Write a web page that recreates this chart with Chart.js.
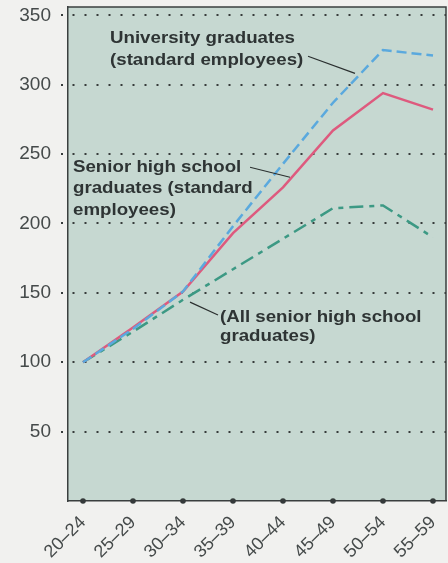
<!DOCTYPE html>
<html>
<head>
<meta charset="utf-8">
<script src="https://cdn.jsdelivr.net/npm/chart.js@4/dist/chart.umd.min.js"></script>
<style>
  html, body { margin: 0; padding: 0; background: #f1f1ef; }
  #c { display: block; }
</style>
</head>
<body>
<canvas id="c" width="448" height="563" style="width:448px;height:563px"></canvas>
<script>
// Age groups along the bottom axis
const ageGroups = ['20–24', '25–29', '30–34', '35–39', '40–44', '45–49', '50–54', '55–59'];

// Wage index (20–24 = 100)
const universityGrads    = [100, 124, 151, 198, 243, 287, 325, 321];
const seniorHighStandard = [100, 125, 151, 193, 226, 267, 294, 282];
const allSeniorHigh      = [100, 122, 145, 167, 189, 211, 213, 190];

// Value-axis tick labels
const yTickValues = [50, 100, 150, 200, 250, 300, 350];

// Series call-outs: text lines and leader lines, in data coordinates
const seriesNotes = [
  { x: 0.54, lines: [['University graduates', 329.8], ['(standard employees)', 314.0]],
    leader: [[4.5, 320.5], [5.44, 308.2]] },
  { x: -0.2, lines: [['Senior high school', 236.9], ['graduates (standard', 221.6], ['employees)', 206.4]],
    leader: [[3.34, 240.5], [4.14, 233.3]] },
  { x: 2.74, lines: [['(All senior high school', 128.9], ['graduates)', 115.2]],
    leader: [[2.14, 143.3], [2.7, 134.0]] }
];

const toPoints = arr => arr.map((v, i) => ({ x: i, y: v }));

const INK = '#2e3434';

const plotFrame = {
  id: 'plotFrame',
  beforeDraw(chart) {
    const { ctx, chartArea: a } = chart;
    ctx.save();
    ctx.fillStyle = '#c6d8d1';
    ctx.fillRect(a.left, a.top, a.right - a.left, a.bottom - a.top);
    ctx.restore();
  },
  afterDraw(chart) {
    const { ctx, chartArea: a, scales } = chart;
    ctx.save();
    ctx.strokeStyle = '#3a3f3f';
    ctx.lineWidth = 1.5;
    ctx.beginPath();
    ctx.moveTo(a.left, a.top);
    ctx.lineTo(a.right, a.top);
    ctx.lineTo(a.right, a.bottom);
    ctx.stroke();
    // category markers on the bottom axis
    ctx.fillStyle = '#353a3a';
    ageGroups.forEach((_, i) => {
      const px = scales.x.getPixelForValue(i);
      ctx.beginPath();
      ctx.arc(px, a.bottom, 2.8, 0, Math.PI * 2);
      ctx.fill();
    });
    ctx.restore();
  }
};

const notes = {
  id: 'notes',
  afterDatasetsDraw(chart) {
    const { ctx, scales: { x, y } } = chart;
    ctx.save();
    ctx.strokeStyle = '#2a2f2f';
    ctx.lineWidth = 1.2;
    ctx.fillStyle = INK;
    ctx.font = 'bold 17px "Liberation Sans", Arial, sans-serif';
    ctx.textBaseline = 'alphabetic';
    seriesNotes.forEach(n => {
      const [p0, p1] = n.leader;
      ctx.beginPath();
      ctx.moveTo(x.getPixelForValue(p0[0]), y.getPixelForValue(p0[1]));
      ctx.lineTo(x.getPixelForValue(p1[0]), y.getPixelForValue(p1[1]));
      ctx.stroke();
      n.lines.forEach(([txt, yv]) => {
        ctx.save();
        ctx.translate(x.getPixelForValue(n.x), y.getPixelForValue(yv));
        ctx.scale(1.1, 1);
        ctx.fillText(txt, 0, 0);
        ctx.restore();
      });
    });
    ctx.restore();
  }
};

new Chart(document.getElementById('c'), {
  type: 'line',
  data: {
    datasets: [
      {
        label: 'University graduates (standard employees)',
        data: toPoints(universityGrads),
        borderColor: '#5aa9de',
        borderWidth: 2.5,
        borderDash: [10, 5],
        pointRadius: 0,
        tension: 0,
        fill: false
      },
      {
        label: 'Senior high school graduates (standard employees)',
        data: toPoints(seniorHighStandard),
        borderColor: '#de5a7e',
        borderWidth: 2.5,
        pointRadius: 0,
        tension: 0,
        fill: false
      },
      {
        label: '(All senior high school graduates)',
        data: toPoints(allSeniorHigh),
        borderColor: '#3c9984',
        borderWidth: 2.5,
        borderDash: [14, 6, 5, 6],
        pointRadius: 0,
        tension: 0,
        fill: false
      }
    ]
  },
  options: {
    responsive: false,
    devicePixelRatio: 1,
    animation: false,
    layout: { padding: { top: 7, right: 2, left: 0, bottom: 0 } },
    plugins: { legend: { display: false }, tooltip: { enabled: false } },
    scales: {
      x: {
        type: 'linear',
        min: -0.3,
        max: 7.26,
        afterBuildTicks: s => { s.ticks = ageGroups.map((_, i) => ({ value: i })); },
        afterFit: s => { s.height = 62; s.paddingLeft = 0; s.paddingRight = 0; },
        grid: { display: false },
        border: { display: true, color: '#3a3f3f', width: 1.5 },
        ticks: {
          autoSkip: false,
          minRotation: 45,
          maxRotation: 45,
          padding: 3,
          color: '#454a4a',
          font: { family: '"Liberation Sans", Arial, sans-serif', size: 18 },
          callback: v => ageGroups[v]
        }
      },
      y: {
        min: 0,
        max: 356,
        afterBuildTicks: s => { s.ticks = yTickValues.map(v => ({ value: v })); },
        afterFit: s => { s.width = 68; s.paddingTop = 0; s.paddingBottom = 0; },
        grid: {
          color: '#363b3b',
          lineWidth: 2,
          tickLength: 7,
          tickBorderDash: [2, 10]
        },
        border: { display: true, color: '#3a3f3f', width: 1.5, dash: [2, 10], dashOffset: -4 },
        ticks: {
          padding: 10,
          color: '#454a4a',
          font: { family: '"Liberation Sans", Arial, sans-serif', size: 19 }
        }
      }
    }
  },
  plugins: [plotFrame, notes]
});
</script>
</body>
</html>
